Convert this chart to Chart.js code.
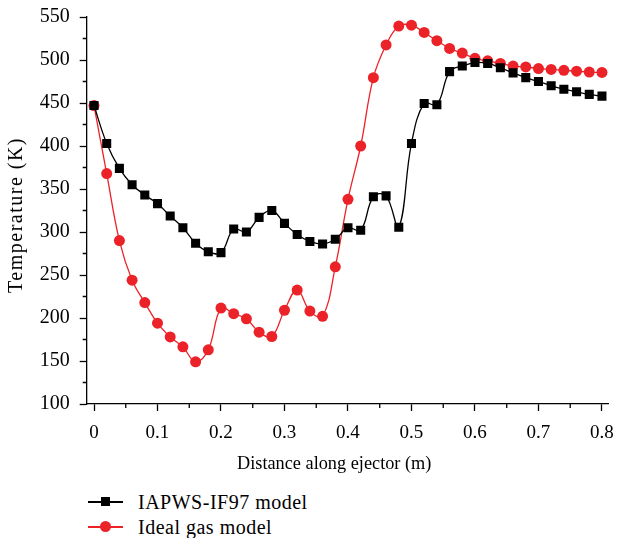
<!DOCTYPE html>
<html>
<head>
<meta charset="utf-8">
<script src="https://cdn.jsdelivr.net/npm/chart.js@4/dist/chart.umd.min.js"></script>
<style>
    body { margin: 0; background: #fff; }
    #wrap { position: relative; width: 618px; height: 538px; font-family: 'Liberation Serif', 'DejaVu Serif', serif; color: #000; }
    #chart { position: absolute; left: 0; top: 0; }
    .axis-title { position: absolute; white-space: nowrap; line-height: 1; }
    #x-title { left: 237px; top: 454px; font-size: 18.3px; }
    #y-title { left: 15px; top: 215px; font-size: 20px; letter-spacing: 1.5px;
        transform: translate(-50%, -50%) rotate(-90deg); }
    .legend-row { position: absolute; left: 88px; height: 20px; display: flex; align-items: center;
        font-size: 20px; letter-spacing: 0.5px; }
    .legend-swatch { position: relative; width: 35px; height: 20px; margin-right: 15px; }
    .legend-swatch .line { position: absolute; left: 0; right: 0; top: 9px; height: 1.5px; }
    .legend-swatch .mark { position: absolute; }
</style>
</head>
<body>
<div id="wrap">
    <canvas id="chart" width="618" height="480"></canvas>
    <div class="axis-title" id="x-title">Distance along ejector (m)</div>
    <div class="axis-title" id="y-title">Temperature (K)</div>
    <div class="legend-row" style="top: 492px;">
        <div class="legend-swatch">
            <div class="line" style="background: #000;"></div>
            <div class="mark" style="left: 13px; top: 5px; width: 9px; height: 9px; background: #000;"></div>
        </div>
        <span>IAPWS-IF97 model</span>
    </div>
    <div class="legend-row" style="top: 517px;">
        <div class="legend-swatch">
            <div class="line" style="background: #ec2229;"></div>
            <div class="mark" style="left: 12px; top: 4px; width: 11px; height: 11px; border-radius: 50%; background: #ec2229;"></div>
        </div>
        <span>Ideal gas model</span>
    </div>
</div>
<script>
// distance along ejector (m)
const distance = [0, 0.02, 0.04, 0.06, 0.08, 0.10, 0.12, 0.14, 0.16, 0.18, 0.20,
    0.22, 0.24, 0.26, 0.28, 0.30, 0.32, 0.34, 0.36, 0.38, 0.40,
    0.42, 0.44, 0.46, 0.48, 0.50, 0.52, 0.54, 0.56, 0.58, 0.60,
    0.62, 0.64, 0.66, 0.68, 0.70, 0.72, 0.74, 0.76, 0.78, 0.80];

// temperature (K)
const iapwsTemp = [447, 403, 374, 355, 343, 333, 318.5, 305, 287, 277, 276,
    303.5, 300, 317, 325, 310, 297, 289, 286, 291.5, 305,
    302, 341, 342, 305.5, 403, 449.5, 448, 486.5, 493, 497,
    496, 491, 485, 479.5, 475, 470, 466, 463, 460, 458];

const idealTemp = [447, 368, 290, 244, 218, 194, 178, 166.5, 149, 163, 211.5,
    205, 199, 183.5, 178.5, 209, 232.5, 208, 202, 259.5, 338,
    400, 479.5, 517.5, 539.5, 540.5, 532, 522.5, 513.5, 508, 502,
    499, 496, 493, 492, 490, 489, 488, 487, 486, 485.5];

const xTicks = [0, 0.1, 0.2, 0.3, 0.4, 0.5, 0.6, 0.7, 0.8];
const xMinorTicks = [0.05, 0.15, 0.25, 0.35, 0.45, 0.55, 0.65, 0.75];
const yMinorTicks = [125, 175, 225, 275, 325, 375, 425, 475, 525];

const FONT = "'Liberation Serif', 'DejaVu Serif', serif";
const RED = '#ec2229';

function toPoints(values) {
    return values.map((v, i) => ({ x: distance[i], y: v }));
}

// Draws the short minor tick marks outside the axes
const minorTicks = {
    id: 'minorTicks',
    afterDraw(chart) {
        const ctx = chart.ctx;
        const xs = chart.scales.x;
        const ys = chart.scales.y;
        const area = chart.chartArea;
        ctx.save();
        ctx.strokeStyle = '#000';
        ctx.lineWidth = 1.3;
        ctx.beginPath();
        xMinorTicks.forEach(v => {
            const px = xs.getPixelForValue(v);
            ctx.moveTo(px, area.bottom);
            ctx.lineTo(px, area.bottom + 4);
        });
        yMinorTicks.forEach(v => {
            const py = ys.getPixelForValue(v);
            ctx.moveTo(area.left - 4, py);
            ctx.lineTo(area.left, py);
        });
        ctx.stroke();
        ctx.restore();
    }
};

new Chart(document.getElementById('chart'), {
    type: 'line',
    data: {
        datasets: [
            {
                label: 'IAPWS-IF97 model',
                data: toPoints(iapwsTemp),
                borderColor: '#000',
                backgroundColor: '#000',
                borderWidth: 1.3,
                pointStyle: 'rect',
                pointRadius: 6.4,
                pointBorderWidth: 0,
                tension: 0.4
            },
            {
                label: 'Ideal gas model',
                data: toPoints(idealTemp),
                borderColor: RED,
                backgroundColor: RED,
                borderWidth: 1.3,
                pointStyle: 'circle',
                pointRadius: 5.5,
                pointBorderWidth: 0,
                tension: 0.4
            }
        ]
    },
    options: {
        responsive: false,
        animation: false,
        layout: { padding: { top: 17, right: 10, left: 0, bottom: 0 } },
        plugins: {
            legend: { display: false },
            tooltip: { enabled: false }
        },
        scales: {
            x: {
                type: 'linear',
                min: -0.0115,
                max: 0.8095,
                afterBuildTicks: scale => { scale.ticks = xTicks.map(v => ({ value: v })); },
                afterFit: scale => {
                    scale.height = 76;
                    scale.paddingLeft = 0;
                    scale.paddingRight = 0;
                },
                grid: { drawOnChartArea: false, drawTicks: true, tickLength: 7, tickColor: '#000', tickWidth: 1.3 },
                border: { color: '#000', width: 1.3 },
                ticks: {
                    padding: 11,
                    color: '#000',
                    font: { family: FONT, size: 19 },
                    maxRotation: 0,
                    callback: v => (v === 0 ? '0' : v.toFixed(1))
                }
            },
            y: {
                min: 100,
                max: 550,
                afterFit: scale => {
                    scale.width = 86.7;
                    scale.paddingTop = 0;
                    scale.paddingBottom = 0;
                },
                grid: { drawOnChartArea: false, drawTicks: true, tickLength: 7, tickColor: '#000', tickWidth: 1.3 },
                border: { color: '#000', width: 1.3 },
                ticks: {
                    stepSize: 50,
                    padding: 10,
                    color: '#000',
                    font: { family: FONT, size: 20 }
                }
            }
        }
    },
    plugins: [minorTicks]
});
</script>
</body>
</html>
